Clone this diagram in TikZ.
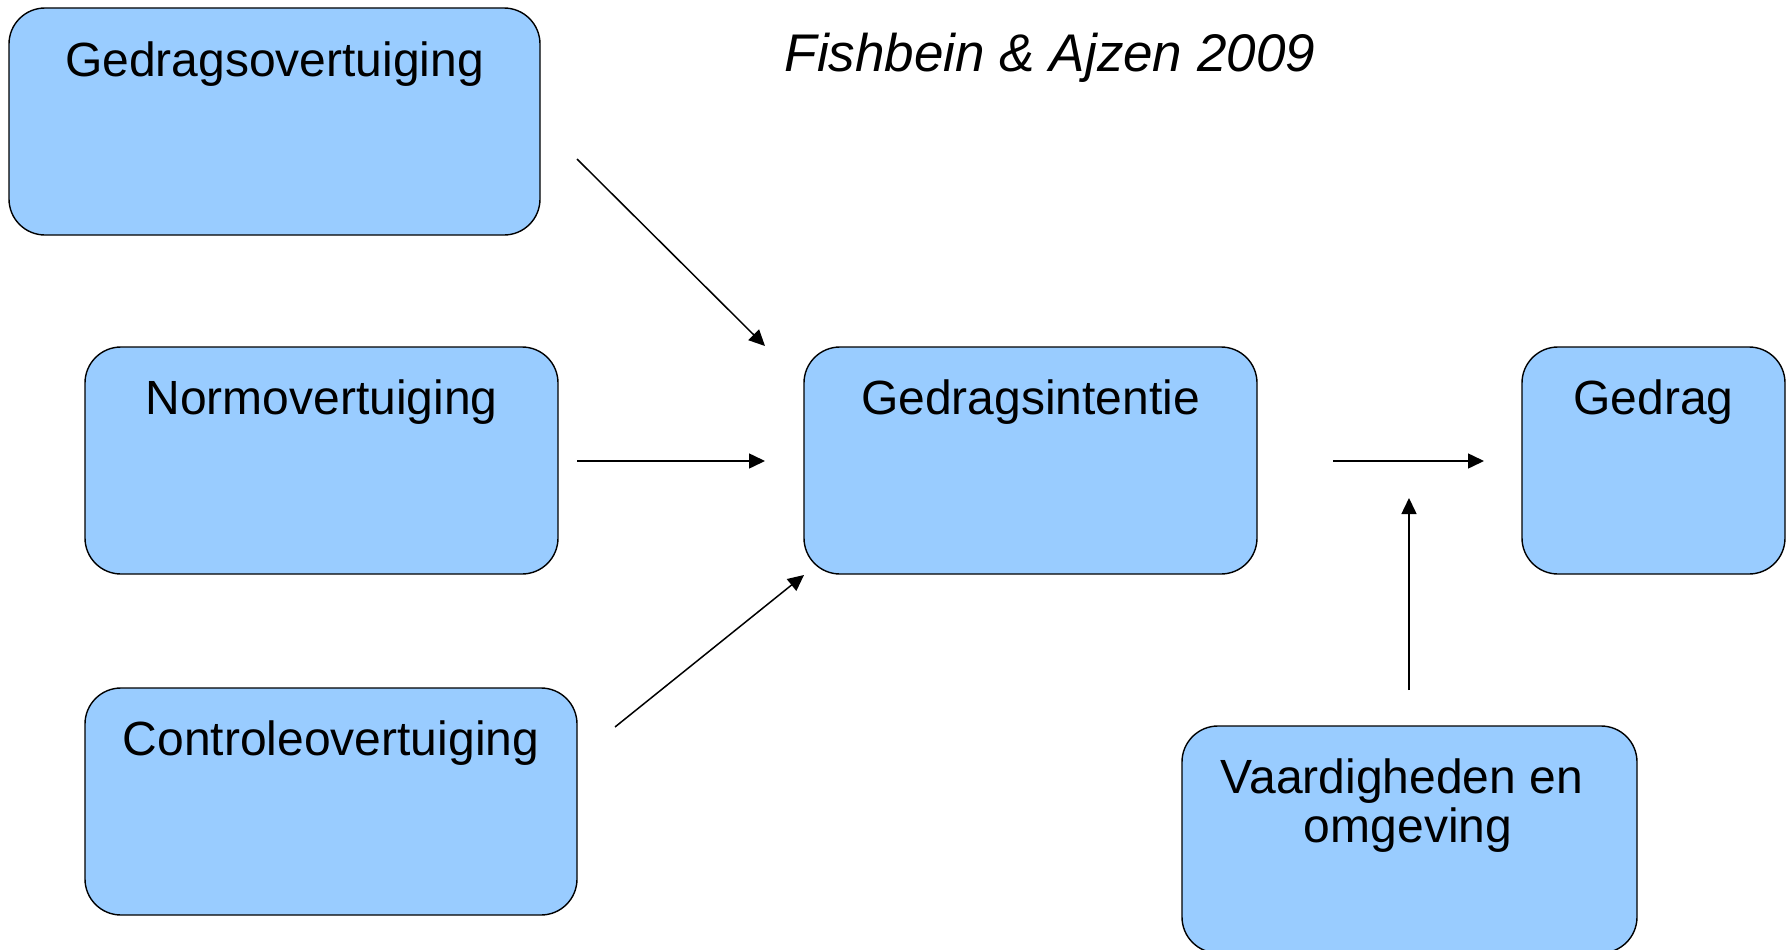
\documentclass[tikz,border=0pt]{standalone}
\usepackage{fontspec}
\setmainfont{Liberation Sans}
\usetikzlibrary{arrows.meta}
\definecolor{boxblue}{HTML}{99CCFF}
\tikzset{
  boxnode/.style={draw=black, line width=1.4pt, fill=boxblue, rounded corners=36pt,
    minimum height=227pt, inner sep=0pt},
  lbl/.style={anchor=base, inner sep=0pt, font=\fontsize{48}{50}\selectfont},
  conn/.style={line width=1.5pt, -{Triangle[length=16pt,width=15pt]}}
}
\begin{document}
\begin{tikzpicture}[x=1pt,y=-1pt]
\useasboundingbox (0,0) rectangle (1786,950);
\node[boxnode, minimum width=531pt] (b1) at (274.5,121.5) {};
\node[boxnode, minimum width=473pt] (b2) at (321.5,460.5) {};
\node[boxnode, minimum width=492pt] (b3) at (331,801.5) {};
\node[boxnode, minimum width=453pt] (b4) at (1030.5,460.5) {};
\node[boxnode, minimum width=263pt] (b5) at (1653.5,460.5) {};
\node[boxnode, minimum width=455pt] (b6) at (1409.5,839.5) {};

\node[lbl] (t1) at (274.5,77) {Gedragsovertuiging};
\node[lbl] (t2) at (321.5,414) {Normovertuiging};
\node[lbl] (t3) at (331,755) {Controleovertuiging};
\node[lbl] (t4) at (1030.5,414) {Gedragsintentie};
\node[lbl] (t5) at (1653.5,414) {Gedrag};
\node[lbl] (t6a) at (1402,793) {Vaardigheden en};
\node[lbl] (t6b) at (1408,842) {omgeving};

\node[anchor=base, inner sep=0pt, font=\fontsize{53}{55}\selectfont\itshape] (title) at (1050,71) {Fishbein \& Ajzen 2009};

\coordinate (a1s) at (577,159);
\coordinate (a1e) at (765,346);
\coordinate (a2s) at (577,461);
\coordinate (a2e) at (765,461);
\coordinate (a3s) at (615,727);
\coordinate (a3e) at (804,575);
\coordinate (a4s) at (1333,461);
\coordinate (a4e) at (1484,461);
\coordinate (a5s) at (1409,690);
\coordinate (a5e) at (1409,498);

\draw[conn] (a1s) -- (a1e);
\draw[conn] (a2s) -- (a2e);
\draw[conn] (a3s) -- (a3e);
\draw[conn] (a4s) -- (a4e);
\draw[conn] (a5s) -- (a5e);
\end{tikzpicture}
\end{document}
